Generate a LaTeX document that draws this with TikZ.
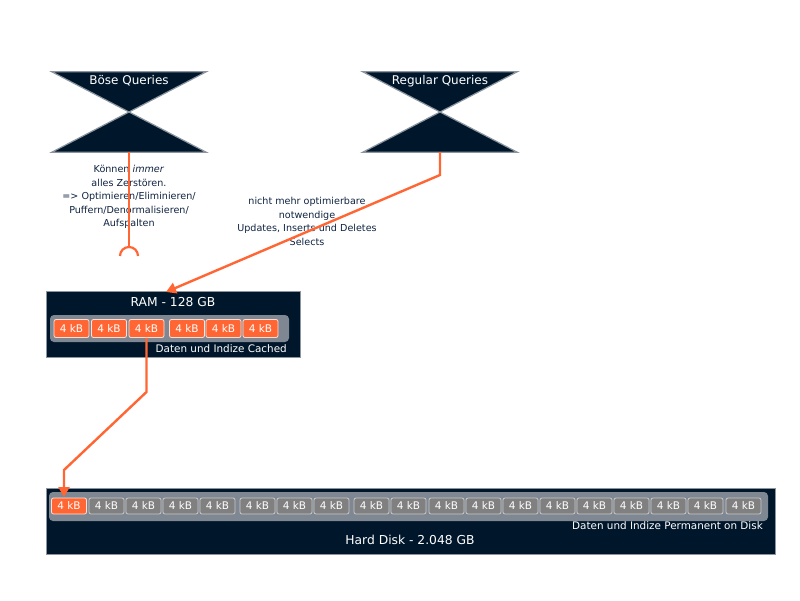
\documentclass[tikz,border=0pt]{standalone}
\usepackage{fontspec}
\setmainfont{DejaVu Sans}
\usetikzlibrary{arrows.meta}
\definecolor{navy}{HTML}{00172B}
\definecolor{bord}{HTML}{8C959F}
\definecolor{innergray}{HTML}{7F8892}
\definecolor{cellgray}{HTML}{808080}
\definecolor{cellbord}{HTML}{C8C8C8}
\definecolor{org}{HTML}{FF6633}
\definecolor{txtnavy}{HTML}{0F2341}
\tikzset{
  hgbox/.style={minimum width=154pt,minimum height=80pt,inner sep=0pt},
  hgfill/.style={fill=navy,draw=bord,line width=1.2pt,line join=miter},
  hgtitle/.style={text=white,font=\fontsize{12}{14}\selectfont,inner sep=0pt},
  comment/.style={text=txtnavy,font=\fontsize{9.6}{13.5}\selectfont,align=center,inner sep=0pt},
  panel/.style={fill=navy,draw=bord,line width=1pt},
  innerpanel/.style={fill=innergray,rounded corners=4pt},
  ocell/.style={fill=org,draw=white!80!org,line width=0.8pt,rounded corners=2pt,minimum width=35pt,inner sep=0pt,text=white,font=\fontsize{10.5}{12}\selectfont},
  gcell/.style={fill=cellgray,draw=cellbord,line width=0.8pt,rounded corners=2pt,minimum width=35pt,minimum height=16pt,inner sep=0pt,text=white,font=\fontsize{10.5}{12}\selectfont},
  ptitle/.style={text=white,font=\fontsize{12.3}{14}\selectfont,inner sep=0pt},
  plabel/.style={text=white,font=\fontsize{10.4}{12}\selectfont,inner sep=0pt},
  conn/.style={draw=org,line width=2.4pt,line join=miter},
  arr/.style={conn,-{Triangle[length=10pt,width=11pt]}}
}
\begin{document}
\begin{tikzpicture}[x=1pt,y=-1pt]
\useasboundingbox (0,0) rectangle (800,600);
% hourglasses
\node[hgbox] (bq) at (129,112) {};
\draw[hgfill] (bq.north west) -- (bq.north east) -- (bq.south west) -- (bq.south east) -- cycle;
\node[hgtitle] (bqt) at (129,81) {Böse Queries};
\node[hgbox] (rq) at (440,112) {};
\draw[hgfill] (rq.north west) -- (rq.north east) -- (rq.south west) -- (rq.south east) -- cycle;
\node[hgtitle] (rqt) at (440,81) {Regular Queries};
% RAM panel
\node[panel,minimum width=254pt,minimum height=66pt,inner sep=0pt] (ram) at (173,324) {};
\node[ptitle] (ramt) at (173,302) {RAM - 128 GB};
\fill[innerpanel] (50,315) rectangle (289,342);
\foreach \i/\x in {1/71.5,2/109,3/146.5,4/187,5/223.5,6/260.5}
  \node[ocell,minimum height=18pt] (r\i) at (\x,328.5) {4 kB};
\node[plabel,anchor=east] (raml) at (287,349) {Daten und Indize Cached};
% HD panel
\node[panel,minimum width=729pt,minimum height=66pt,inner sep=0pt] (hd) at (410.5,521) {};
\fill[innerpanel] (49,492) rectangle (768,521);
\node[ocell,minimum height=16pt] (h1) at (69,506) {4 kB};
\foreach \i/\x in {2/106.5,3/143.5,4/180.5,5/217.5,6/257.5,7/294.5,8/331.5,9/371.5,10/408.5,11/446.5,12/483.5,13/520.5,14/557.5,15/594.5,16/631.5,17/668.5,18/705.5,19/743.5}
  \node[gcell] (h\i) at (\x,506) {4 kB};
\node[plabel,anchor=east] (hdl) at (763,525.5) {Daten und Indize Permanent on Disk};
\node[ptitle] (hdt) at (410,540) {Hard Disk - 2.048 GB};
% comments
\node[comment] (c1) at (129,197) {Können \textit{immer}\\alles Zerstören.\\=> Optimieren/Eliminieren/\\Puffern/Denormalisieren/\\Aufspalten};
\node[comment] (c2) at (307,221.5) {nicht mehr optimierbare\\notwendige\\Updates, Inserts und Deletes\\Selects};
% connectors
\coordinate (socktop) at (129,247);
\draw[conn] (bq.south) -- (socktop);
\draw[draw=org,line width=2.2pt] (120,256) arc[start angle=180,end angle=360,radius=9];
\coordinate (rqbend) at (440,175);
\coordinate (ramin) at (166,292);
\draw[arr] (rq.south) -- (rqbend) -- (ramin);
\coordinate (b1) at (146.5,392);
\coordinate (b2) at (64,470);
\draw[arr] (r3.south) -- (b1) -- (b2) -- (64,497);
\end{tikzpicture}
\end{document}
